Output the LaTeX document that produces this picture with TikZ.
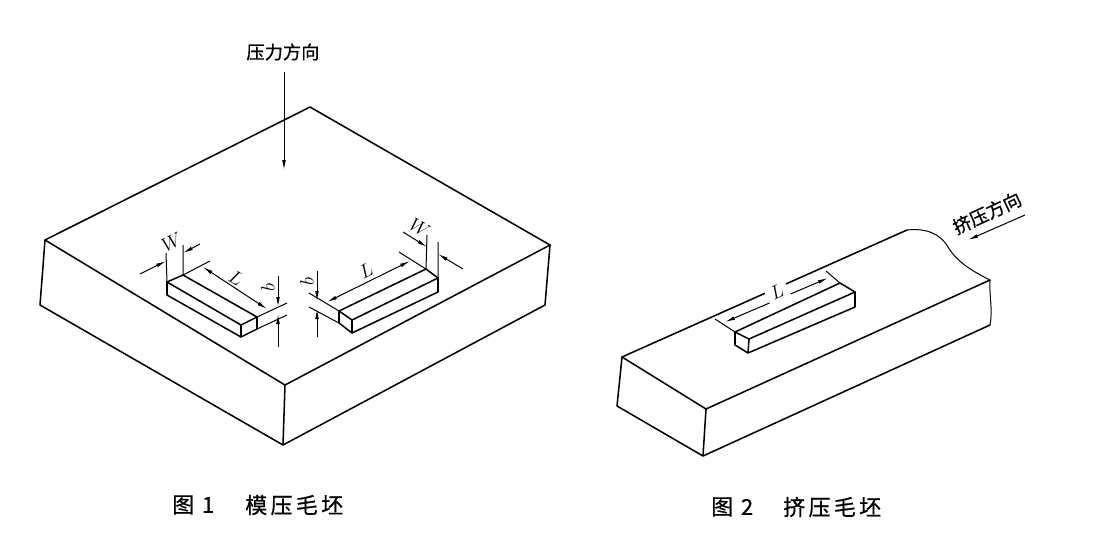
\documentclass[tikz,border=0pt]{standalone}
\usepackage{fontspec}
\newfontfamily\cjk[FakeBold=0.7]{Noto Sans CJK SC}
\usetikzlibrary{arrows.meta,calc}

\tikzset{
    edge/.style={line width=1.15pt, line join=round, line cap=round},
    thin line/.style={line width=0.75pt},
    dim/.style={thin line, -{Latex[length=7.5pt,width=2.8pt]}},
    dimtwo/.style={thin line, {Latex[length=7.5pt,width=2.8pt]}-{Latex[length=7.5pt,width=2.8pt]}},
    mark label/.style={font=\fontsize{13.5}{14}\selectfont, inner sep=0pt},
    dir label/.style={font=\cjk\fontsize{13.7}{15}\selectfont, inner sep=0pt},
    cap label/.style={font=\cjk\fontsize{16.5}{18}\selectfont, inner sep=0pt},
}

\begin{document}
\begin{tikzpicture}[x=0.75pt, y=-0.75pt]
    \useasboundingbox (0,0) rectangle (1119,532);

    % Figure 1: block
    \coordinate (LB) at (45,240);
    \coordinate (BK) at (310,107);
    \coordinate (RT) at (550,245);
    \coordinate (FR) at (285,385);
    \coordinate (LD) at (40,305);
    \coordinate (FD) at (283,445);
    \coordinate (RD) at (545,305);
    \draw[edge] (LB) -- (BK) -- (RT) -- (FR) -- cycle;
    \draw[edge] (LB) -- (LD) -- (FD) -- (RD) -- (RT) (FR) -- (FD);

    % left bar
    \coordinate (A1) at (167,282);
    \coordinate (A2) at (183,275);
    \coordinate (A3) at (257,317);
    \coordinate (A4) at (241,325);
    \coordinate (A5) at (167,295);
    \coordinate (A6) at (241,337);
    \coordinate (A7) at (257,329);
    \draw[edge] (A1) -- (A2) -- (A3) -- (A4) -- cycle;
    \draw[edge] (A1) -- (A5) -- (A6) -- (A7) -- (A3) (A4) -- (A6);
    \coordinate (Aw1) at (166,253);
    \coordinate (Aw2) at (183,245);
    \draw[thin line] (A1) -- (Aw1) (A2) -- (Aw2);
    \draw[dim] (140,274) -- (166,261);
    \draw[dim] (200,244) -- (183,253);
    \coordinate (Al1) at (210,261);
    \coordinate (Al2) at (287,303);
    \coordinate (Ab2) at (287,315);
    \draw[thin line] (A2) -- (Al1) (A3) -- (Al2) (A7) -- (Ab2);
    \draw[dimtwo] (203,267) -- (267,309);
    \draw[dim] (278,276) -- (278,307);
    \draw[dim] (278,347) -- (278,314);
    \node[mark label, rotate=27] (wa) at (172,242) {$W$};
    \node[mark label, rotate=-30] (la) at (236,278) {$L$};
    \node[mark label, rotate=90] (ba) at (268,287) {$b$};

    % right bar
    \coordinate (C1) at (339,311);
    \coordinate (C2) at (426,269);
    \coordinate (C3) at (438,278);
    \coordinate (C4) at (352,320);
    \coordinate (C5) at (339,323);
    \coordinate (C6) at (352,333);
    \coordinate (C7) at (438,292);
    \draw[edge] (C1) -- (C2) -- (C3) -- (C4) -- cycle;
    \draw[edge] (C1) -- (C5) -- (C6) -- (C7) -- (C3) (C4) -- (C6);
    \coordinate (Cw1) at (427,235);
    \coordinate (Cw2) at (438,242);
    \draw[thin line] (C2) -- (Cw1) (C3) -- (Cw2);
    \draw[dim] (403,232) -- (427,247);
    \draw[dim] (463,269) -- (438,254);
    \coordinate (Cl1) at (399,252);
    \coordinate (Cl2) at (309,293);
    \coordinate (Cb2) at (309,307);
    \draw[thin line] (C2) -- (Cl1) (C1) -- (Cl2) (C5) -- (Cb2);
    \draw[dimtwo] (327,302) -- (410,261);
    \draw[dim] (317,271) -- (317,301);
    \draw[dim] (317,337) -- (317,309);
    \node[mark label, rotate=-30] (wc) at (420,228) {$W$};
    \node[mark label, rotate=27] (lc) at (366,271) {$L$};
    \node[mark label, rotate=90] (bc) at (307,281) {$b$};

    % pressure direction
    \node[dir label] (press) at (283,52) {压力方向};
    \coordinate (P1) at (284,72);
    \coordinate (P2) at (284,170);
    \draw[dim] (P1) -- (P2);

    % Figure 2: billet with broken end
    \coordinate (E1) at (622,357);
    \coordinate (E2) at (907,230);
    \coordinate (E3) at (990,280);
    \coordinate (E4) at (706,409);
    \coordinate (E5) at (617,406);
    \coordinate (E6) at (703,456);
    \coordinate (E7) at (990,325);
    \draw[edge] (E4) -- (E1) -- (E2);
    \draw[edge] (E4) -- (E3) (E1) -- (E5) -- (E6) -- (E7) (E4) -- (E6);
    \draw[thin line] (E2) .. controls (925,228) and (940,233) .. (948,247)
        .. controls (957,262) and (972,271) .. (E3);
    \draw[thin line] (E3) .. controls (989,295) and (993,310) .. (E7);

    % bar on billet
    \coordinate (F1) at (735,332);
    \coordinate (F2) at (840,283);
    \coordinate (F3) at (855,292);
    \coordinate (F4) at (749,339);
    \coordinate (F5) at (735,345);
    \coordinate (F6) at (748,353);
    \coordinate (F7) at (855,307);
    \draw[edge] (F1) -- (F2) -- (F3) -- (F4) -- cycle;
    \draw[edge] (F1) -- (F5) -- (F6) -- (F7) -- (F3) (F4) -- (F6);
    \coordinate (Fl1) at (715,319);
    \coordinate (Fl2) at (826,271);
    \draw[thin line] (F1) -- (Fl1) (F2) -- (Fl2);
    \draw[dimtwo] (725,322) -- (828,278);
    \node[mark label, rotate=25, fill=white, minimum width=17pt, minimum height=17pt] (lf) at (777,292) {$L$};

    % extrusion direction
    \node[dir label, rotate=25] (extr) at (987,213) {挤压方向};
    \coordinate (X1) at (1025,215);
    \coordinate (X2) at (968,240);
    \draw[dim] (X1) -- (X2);

    % captions
    \node[cap label, anchor=west] (cap1) at (172,505) {图\hspace{0.35em}1};
    \node[cap label, anchor=west] (nam1) at (245,505) {\addfontfeatures{LetterSpace=15}模压毛坯};
    \node[cap label, anchor=west] (cap2) at (711,507) {图\hspace{0.35em}2};
    \node[cap label, anchor=west] (nam2) at (783,507) {\addfontfeatures{LetterSpace=15}挤压毛坯};
\end{tikzpicture}
\end{document}
